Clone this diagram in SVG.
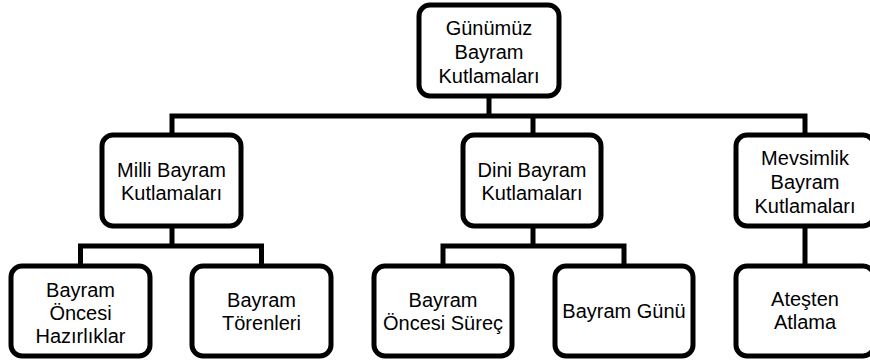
<svg xmlns="http://www.w3.org/2000/svg" width="870" height="364" viewBox="0 0 870 364">
<style>
.box{fill:#fff;stroke:#000;stroke-width:5}
.lbl{font-family:"Liberation Sans",Arial,sans-serif;font-size:20px;fill:#000;text-anchor:middle}
.con{fill:none;stroke:#000;stroke-width:5;stroke-linejoin:miter;stroke-linecap:butt}
</style>
<rect width="870" height="364" fill="#fff"/>
<g id="connectors">
<path class="con" d="M489,96V116M172,135V116H805V135M533,116V135"/>
<path class="con" d="M172,226V246M80.5,266V246H261.5V266"/>
<path class="con" d="M533,226V246M443,266V246H624V266"/>
<path class="con" d="M805,226V266"/>
</g>
<g id="n-root">
<rect class="box" x="419" y="5" width="140" height="91" rx="11"/>
<text class="lbl" x="489" y="35">Günümüz</text>
<text class="lbl" x="489" y="59">Bayram</text>
<text class="lbl" x="489" y="83">Kutlamaları</text>
</g>
<g id="n-milli">
<rect class="box" x="102" y="135" width="139" height="91" rx="11"/>
<text class="lbl" x="171.5" y="177">Milli Bayram</text>
<text class="lbl" x="171.5" y="200">Kutlamaları</text>
</g>
<g id="n-dini">
<rect class="box" x="463" y="135" width="138" height="91" rx="11"/>
<text class="lbl" x="532" y="177">Dini Bayram</text>
<text class="lbl" x="532" y="200">Kutlamaları</text>
</g>
<g id="n-mevsimlik">
<rect class="box" x="736" y="135" width="138" height="91" rx="11"/>
<text class="lbl" x="805" y="165">Mevsimlik</text>
<text class="lbl" x="805" y="189">Bayram</text>
<text class="lbl" x="805" y="213">Kutlamaları</text>
</g>
<g id="n-hazirliklar">
<rect class="box" x="11" y="266" width="139" height="90" rx="11"/>
<text class="lbl" x="80.5" y="297">Bayram</text>
<text class="lbl" x="80.5" y="320">Öncesi</text>
<text class="lbl" x="80.5" y="343">Hazırlıklar</text>
</g>
<g id="n-torenleri">
<rect class="box" x="192" y="266" width="139" height="90" rx="11"/>
<text class="lbl" x="261.5" y="307">Bayram</text>
<text class="lbl" x="261.5" y="330">Törenleri</text>
</g>
<g id="n-surec">
<rect class="box" x="374" y="266" width="138" height="90" rx="11"/>
<text class="lbl" x="443" y="307">Bayram</text>
<text class="lbl" x="443" y="330">Öncesi Süreç</text>
</g>
<g id="n-gunu">
<rect class="box" x="555" y="266" width="138" height="90" rx="11"/>
<text class="lbl" x="624" y="318">Bayram Günü</text>
</g>
<g id="n-atesten">
<rect class="box" x="736" y="266" width="138" height="90" rx="11"/>
<text class="lbl" x="805" y="306">Ateşten</text>
<text class="lbl" x="805" y="329">Atlama</text>
</g>
</svg>
